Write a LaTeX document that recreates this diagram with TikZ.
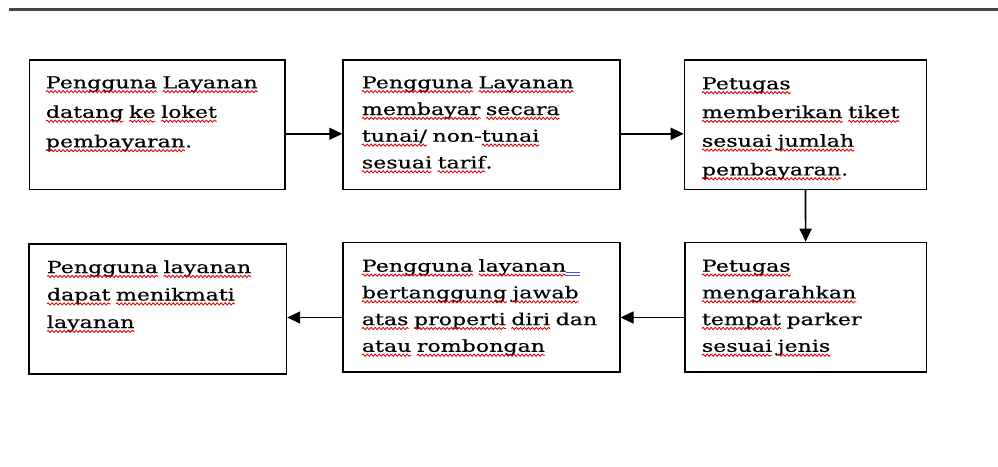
\documentclass[tikz,border=0pt]{standalone}
\usepackage{fontspec}
\setmainfont[FakeStretch=1.34,FakeBold=0.6]{DejaVu Serif}
\usetikzlibrary{arrows.meta,decorations.pathmorphing}
\newsavebox\sqbox
\newcommand\sq[1]{\leavevmode\sbox\sqbox{#1}\rlap{\usebox\sqbox}%
  \tikz[baseline=0pt,x=1pt,y=1pt]{\useasboundingbox (0,0) rectangle (\wd\sqbox,0);
  \draw[red!90!black,line width=0.85pt,decorate,decoration={snake,amplitude=1.1pt,segment length=4pt}] (0,-3.4) -- (\wd\sqbox,-3.4);}}
\newcommand\gram{\textcolor{blue!70}{\rlap{\rule[-0.6pt]{14pt}{0.8pt}}\rule[-4pt]{14pt}{0.8pt}}}
\tikzset{
  box/.style={draw, line width=1.5pt, inner sep=0pt, anchor=north west, minimum height=129.5pt},
  arr/.style={line width=1.6pt, -{Triangle[length=13pt,width=12pt]}},
  txt/.style={anchor=base west, inner sep=0pt, align=left, text width=250pt,
    font=\fontsize{16.5pt}{26.7pt}\selectfont},
}
\begin{document}
\begin{tikzpicture}[x=1pt,y=-1pt]
\useasboundingbox (0,0) rectangle (998,466);
\draw[line width=2.4pt, black!72] (9,9.5) -- (998,9.5);
% boxes
\node[box, minimum width=255.5pt] (b1) at (28.5,59) {};
\node[box, minimum width=277pt] (b2) at (342.3,59) {};
\node[box, minimum width=242pt] (b3) at (683.7,59) {};
\node[box, minimum width=257.4pt, minimum height=129.7pt] (b4) at (28.3,243.3) {};
\node[box, minimum width=277pt] (b5) at (342,241.7) {};
\node[box, minimum width=241.7pt] (b6) at (684,241.7) {};
% texts
\node[txt, font=\fontsize{16.5pt}{29.5pt}\selectfont] (t1) at (45.7,88.3)
  {\sq{Pengguna} \sq{Layanan}\\ \sq{datang} \sq{ke} \sq{loket}\\ \sq{pembayaran}.};
\node[txt] (t2) at (361.7,88.3)
  {\sq{Pengguna} \sq{Layanan}\\ \sq{membayar} \sq{secara}\\ \sq{tunai/} non-\sq{tunai}\\ \sq{sesuai} \sq{tarif}.};
\node[txt, font=\fontsize{16.5pt}{28.7pt}\selectfont] (t3) at (701.7,89.3)
  {\sq{Petugas}\\ \sq{memberikan} \sq{tiket}\\ \sq{sesuai} \sq{jumlah}\\ \sq{pembayaran}.};
\node[txt, font=\fontsize{16.5pt}{27.5pt}\selectfont] (t4) at (46.7,273)
  {\sq{Pengguna} \sq{layanan}\\ \sq{dapat} \sq{menikmati}\\ \sq{layanan}};
\node[txt] (t5) at (361.7,271.7)
  {\sq{Pengguna} \sq{layanan}\gram\\ \sq{bertanggung} \sq{jawab}\\ \sq{atas} \sq{properti} \sq{diri} dan\\ \sq{atau} \sq{rombongan}};
\node[txt] (t6) at (701.7,271.7)
  {\sq{Petugas}\\ \sq{mengarahkan}\\ \sq{tempat} parker\\ \sq{sesuai} \sq{jenis}};
% arrows
\path ([yshift=-9.3pt]b1.east) coordinate (p1);
\draw[arr] (p1) -- (b2.west |- p1);
\path ([yshift=-9.3pt]b2.east) coordinate (p2);
\draw[arr] (p2) -- (b3.west |- p2);
\draw[arr] (b3.south) -- (b6.north);
\path ([yshift=-10.3pt]b6.west) coordinate (p3);
\draw[arr] (p3) -- (b5.east |- p3);
\path ([yshift=-10.3pt]b5.west) coordinate (p4);
\draw[arr] (p4) -- (b4.east |- p4);
\end{tikzpicture}
\end{document}
